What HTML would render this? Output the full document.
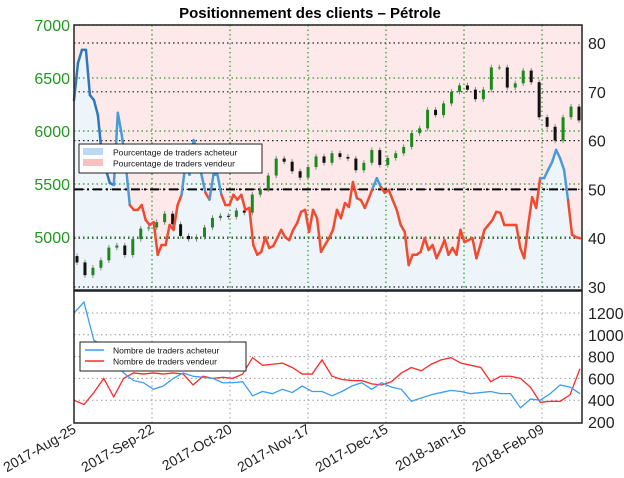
<!DOCTYPE html>
<html><head><meta charset="utf-8"><style>
body{margin:0;background:#fff;width:624px;height:478px;overflow:hidden;font-family:"Liberation Sans",sans-serif}
svg{display:block}
</style></head><body>
<svg id="c" width="624" height="478" viewBox="0 0 624 478">
<text x="310" y="18" text-anchor="middle" font-size="15" font-weight="bold" fill="#000">Positionnement des clients – Pétrole</text>
</svg>
<script>
// ---- data ----
const dateLabels=["2017-Aug-25","2017-Sep-22","2017-Oct-20","2017-Nov-17","2017-Dec-15","2018-Jan-16","2018-Feb-09"];
const priceTicks=[5000,5500,6000,6500,7000];
const pctTicks=[30,40,50,60,70,80];
const countTicks=[200,400,600,800,1000,1200];
const pctLong=[68.3,75.9,78.6,78.6,69.3,68.3,65.2,57.0,54.0,51.3,50.9,65.7,61.1,55.0,46.8,45.8,45.8,46.8,43.7,42.7,43.3,36.6,38.6,38.6,42.7,41.7,46.8,48.9,55.4,53.0,60.1,58.1,53.0,49.3,47.9,53.0,53.0,48.9,46.8,46.8,48.9,47.9,48.9,45.8,46.2,38.6,36.6,37.2,40.2,38.0,38.4,40.0,41.7,40.2,39.6,41.7,43.1,45.4,45.8,41.3,45.8,44.1,37.2,
38.6,40.0,41.7,45.8,44.1,47.2,46.4,51.5,48.2,47.8,46.2,48.2,50.3,52.3,50.5,49.3,49.9,47.8,45.8,42.7,41.3,34.5,36.6,36.6,37.2,40.0,37.6,38.6,35.9,37.6,39.6,36.6,38.0,36.6,41.7,39.2,39.6,40.0,35.9,38.6,41.7,42.7,43.7,45.4,45.2,42.7,42.7,42.7,42.7,38.0,35.9,42.7,48.4,46.2,52.3,52.3,54.0,55.6,58.1,56.4,54.0,47.8,40.7,40.2,40.0];
const closes=[4760,4640,4710,4780,4900,4920,4830,4980,5080,5090,5140,5220,5120,5010,4980,5000,5090,5180,5200,5190,5250,5230,5400,5450,5580,5740,5710,5620,5560,5660,5760,5700,5790,5755,5740,5630,5700,5820,5680,5745,5790,5850,5980,6025,6200,6150,6260,6370,6430,6390,6300,6390,6600,6600,6410,6450,6570,6460,6130,6040,5910,6130,6230,6100];
const buyers=[1200,1300,950,900,760,650,580,560,500,530,600,650,620,610,600,560,560,570,440,480,460,500,470,530,480,480,440,480,530,560,500,560,520,500,390,420,450,470,490,480,460,470,480,460,460,330,410,400,460,540,520,460];
const sellers=[400,360,470,600,430,600,650,640,650,640,650,640,540,620,600,610,600,640,790,720,730,740,700,640,640,770,620,590,580,580,550,540,570,650,700,670,730,770,790,740,720,700,570,620,620,600,520,380,390,390,450,690];
// ---- scales ----
const X0=74,X1=582,T0=25,T1=290,B0=291,B1=423;
const xDate=i=>X0+i*78;
const yPrice=p=>25+(7000-p)*53/500;
const yPct=v=>287-(v-30)*4.88;
const yCnt=v=>422-(v-200)*0.109;
const xSeries=(i,n,a,b)=>a+i*(b-a)/(n-1);
const svg=document.getElementById('c');const NS="http://www.w3.org/2000/svg";
function mk(t,a,p){const e=document.createElementNS(NS,t);for(const k in a)e.setAttribute(k,a[k]);(p||svg).appendChild(e);return e;}
// backgrounds
const bgTop=mk('rect',{x:X0,y:T0,width:X1-X0,height:T1-T0,fill:'#fde9e9'});


let pts=pctLong.map((v,i)=>xSeries(i,pctLong.length,X0,580)+','+yPct(v));
const area=mk('polygon',{points:X0+','+T1+' '+pts.join(' ')+' 582,'+yPct(pctLong[pctLong.length-1])+' 582,'+T1,fill:'#eef5fa'});


// grids
for(const p of priceTicks){const y=yPrice(p);const l=mk('line',{x1:X0,x2:X1,y1:y,y2:y,stroke:'#2a9a2a','stroke-dasharray':'1.5,3',"stroke-width":1.2});


const t=mk('text',{x:70,y:y+6,'text-anchor':'end','font-size':16,fill:'#1f9a1f'});t.textContent=p;

}
for(const v of pctTicks){const y=yPct(v);const l=mk('line',{x1:X0,x2:X1,y1:y,y2:y,stroke:'#222','stroke-dasharray':'1.5,3',"stroke-width":1.2});


const t=mk('text',{x:588,y:y+6,'font-size':16,fill:'#222'});t.textContent=v;

}
for(const v of countTicks){const y=yCnt(v);if(v>200){const l=mk('line',{x1:X0,x2:X1,y1:y,y2:y,stroke:'#999','stroke-dasharray':'1.5,3'});

}
const t=mk('text',{x:588,y:y+6,'font-size':16,fill:'#222'});t.textContent=v;

}
dateLabels.forEach((d,i)=>{const x=xDate(i);
if(i>0){const g=mk('line',{x1:x,x2:x,y1:T0,y2:T1,stroke:'#2a9a2a','stroke-dasharray':'1.5,3',"stroke-width":1.2});


const g2=mk('line',{x1:x,x2:x,y1:B0,y2:B1,stroke:'#999','stroke-dasharray':'1.5,3'});

}
const t=mk('text',{x:x+3,y:432,'text-anchor':'end','font-size':14,fill:'#222',transform:`rotate(-30 ${x+3} 432)`});t.textContent=d;

});
// 50% reference line
const ref=mk('line',{x1:X0,x2:X1,y1:yPct(50),y2:yPct(50),stroke:'#000','stroke-width':2,'stroke-dasharray':'9,4,2,4'});


// candles
closes.forEach((c,i)=>{const o=i?closes[i-1]:c+60;const x=xSeries(i,closes.length,77,579);const up=c>=o;
const col=up?'#1a8a1a':'#111';const hi=Math.max(o,c)+25,lo=Math.min(o,c)-25;
const w=mk('line',{x1:x,x2:x,y1:yPrice(hi),y2:yPrice(lo),stroke:'#888','stroke-width':1});


const b=mk('rect',{x:x-1.5,y:yPrice(Math.max(o,c)),width:3,height:Math.max(1,Math.abs(yPrice(o)-yPrice(c))),fill:col});

});
// pct line segments
for(let i=0;i<pctLong.length-1;i++){const a=pctLong[i],b=pctLong[i+1];
const s=mk('line',{x1:xSeries(i,pctLong.length,X0,580),y1:yPct(a),x2:xSeries(i+1,pctLong.length,X0,580),y2:yPct(b),stroke:(a+b)/2>=50?(i<10?'#2f78b8':'#4a9ad8'):'#f24a2e','stroke-width':2.5,'stroke-linecap':'round'});

}
// bottom lines
function line(arr,col,name){const p=mk('polyline',{points:arr.map((v,i)=>xSeries(i,arr.length,X0,X1-2)+','+yCnt(v)).join(' '),fill:'none',stroke:col,'stroke-width':1.3});

}
line(sellers,'#ff2a2a','sellers-count-line');
line(buyers,'#3b9cf5','buyers-count-line');
// frames
const f1=mk('rect',{x:X0,y:T0,width:X1-X0,height:T1-T0,fill:'none',stroke:'#222','stroke-width':1.5});


const f2=mk('rect',{x:X0,y:B0,width:X1-X0,height:B1-B0,fill:'none',stroke:'#222','stroke-width':1.5});


// legends
function legend(x,y,w,items,name,swatch){const g=mk('g',{});

mk('rect',{x,y,width:w,height:29,fill:'#fff',stroke:'#222','stroke-width':1},g);
items.forEach((it,k)=>{const yy=y+8+k*11;
if(swatch)mk('rect',{x:x+4,y:yy-4,width:20,height:7,fill:it[1]},g);else mk('line',{x1:x+5,x2:x+24,y1:yy,y2:yy,stroke:it[1],'stroke-width':1.5},g);
const t=mk('text',{x:x+(swatch?34:33),y:yy+3.5,'font-size':8.5,fill:'#111'},g);t.textContent=it[0];});}
legend(79,144,183,[["Pourcentage de traders acheteur","#bcd9f3"],["Pourcentage de traders vendeur","#f9c0c0"]],'top-legend',true);
legend(80,342,166,[["Nombre de traders acheteur","#3b9cf5"],["Nombre de traders vendeur","#ff2a2a"]],'bottom-legend',false);
</script>
</body></html>
